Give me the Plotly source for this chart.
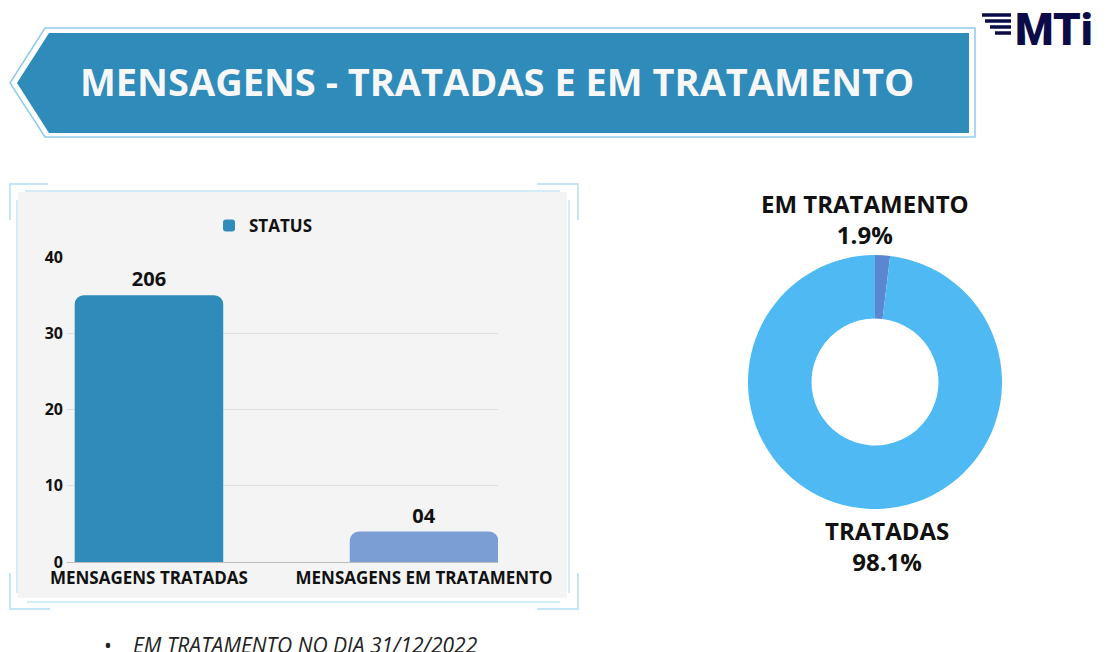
import plotly.graph_objects as go

# page body has an 8px margin; the figure fills the rest of the 1109x652 window
OFF = 8
W, H = 1109 - OFF, 652 - OFF

# ---------------- data ----------------
title_text = "MENSAGENS - TRATADAS E EM TRATAMENTO"
bar_categories = ["MENSAGENS TRATADAS", "MENSAGENS EM TRATAMENTO"]
bar_values = [35, 4]
bar_labels = ["206", "04"]
bar_colors = ["#2e8bba", "#7b9fd4"]
legend_name = "STATUS"
y_ticks = [0, 10, 20, 30, 40]

pie_labels = ["EM TRATAMENTO", "TRATADAS"]
pie_values = [4, 206]
pie_pct_text = ["1.9%", "98.1%"]
pie_colors = ["#5b87d0", "#4fb9f4"]

note_text = "EM TRATAMENTO NO DIA 31/12/2022"
logo_text = "MTi"


def px(x):
    return (x - OFF) / W


def py(y):
    return 1 - (y - OFF) / H


def path(points, close=True):
    s = "M " + " L ".join(f"{px(x):.5f},{py(y):.5f}" for x, y in points)
    return s + (" Z" if close else "")


fig = go.Figure()

# bar chart
fig.add_trace(go.Bar(
    x=bar_categories, y=bar_values, name=legend_name,
    marker=dict(color=bar_colors, line=dict(width=0)),
    text=bar_labels, textposition="outside",
    textfont=dict(family="Open Sans", size=20, color="#111111", weight="bold"),
    cliponaxis=False, width=0.54, showlegend=True,
    xaxis="x", yaxis="y",
))

# donut
fig.add_trace(go.Pie(
    labels=pie_labels, values=pie_values, hole=0.5, sort=False,
    direction="counterclockwise", rotation=0,
    marker=dict(colors=pie_colors, line=dict(width=0)),
    textinfo="none", showlegend=False,
    domain=dict(x=[px(748), px(1002)], y=[py(509), py(255)]),
))

shapes = []
# banner
shapes.append(dict(type="path", xref="paper", yref="paper",
                   path=path([(10, 83), (45, 28), (975, 28), (975, 137), (45, 137)]),
                   fillcolor="white", line=dict(color="#8ecbea", width=1.5), layer="below"))
shapes.append(dict(type="path", xref="paper", yref="paper",
                   path=path([(17, 83), (49, 33), (969, 33), (969, 133), (49, 133)]),
                   fillcolor="#2e8bba", line=dict(width=0), layer="below"))
# gray box
shapes.append(dict(type="rect", xref="paper", yref="paper",
                   x0=px(18), x1=px(567), y0=py(598), y1=py(192),
                   fillcolor="#f4f4f4", line=dict(width=0), layer="below"))
lc = "#d4ecfa"
for pts in [[(25, 191), (560, 191)], [(27, 602), (560, 602)],
            [(17, 200), (17, 593)], [(569, 200), (569, 593)]]:
    shapes.append(dict(type="path", xref="paper", yref="paper", path=path(pts, close=False),
                       line=dict(color=lc, width=2), layer="below"))
bc = "#c6e5f8"
for pts in [[(10, 220), (10, 184), (48, 184)], [(537, 184), (578, 184), (578, 220)],
            [(10, 573), (10, 609), (50, 609)], [(537, 609), (578, 609), (578, 573)]]:
    shapes.append(dict(type="path", xref="paper", yref="paper", path=path(pts, close=False),
                       line=dict(color=bc, width=2), layer="below"))
# logo stripes
for (x0, y) in [(982, 15), (985, 21), (990, 27), (995, 33)]:
    shapes.append(dict(type="path", xref="paper", yref="paper",
                       path=path([(x0, y), (1011, y)], close=False),
                       line=dict(color="#0b0b48", width=3.5)))

annotations = [
    dict(text=title_text, x=px(497), y=py(81), xref="paper", yref="paper",
         showarrow=False, xanchor="center", yanchor="middle",
         font=dict(family="Open Sans", size=38, color="#f7f7f7", weight="bold")),
    dict(text=logo_text, x=px(1013), y=py(30), xref="paper", yref="paper",
         showarrow=False, xanchor="left", yanchor="middle",
         font=dict(family="Roboto", size=44, color="#0b0b48", weight=900)),
    dict(text=f"{pie_labels[0]}<br>{pie_pct_text[0]}", x=px(865), y=py(219),
         xref="paper", yref="paper", showarrow=False, xanchor="center", yanchor="middle",
         font=dict(family="Open Sans", size=24, color="#111111", weight="bold")),
    dict(text=f"{pie_labels[1]}<br>{pie_pct_text[1]}", x=px(887), y=py(546),
         xref="paper", yref="paper", showarrow=False, xanchor="center", yanchor="middle",
         font=dict(family="Open Sans", size=24, color="#111111", weight="bold")),
    dict(text="•", x=px(108), y=py(645), xref="paper", yref="paper",
         showarrow=False, xanchor="center", yanchor="middle",
         font=dict(family="Open Sans", size=21, color="#222222")),
    dict(text=f"<i>{note_text}</i>", x=px(131), y=py(645), xref="paper", yref="paper",
         showarrow=False, xanchor="left", yanchor="middle",
         font=dict(family="Open Sans", size=21, color="#222222")),
]

fig.update_layout(
    width=W, height=H, margin=dict(l=0, r=0, t=0, b=0, autoexpand=False),
    paper_bgcolor="white", plot_bgcolor="rgba(0,0,0,0)",
    barcornerradius=9,
    shapes=shapes, annotations=annotations,
    xaxis=dict(domain=[px(67), px(498)], range=[-0.298, 1.269], automargin=False,
               showgrid=False, zeroline=False, showline=False, ticks="",
               ticklabelstandoff=4,
               tickfont=dict(family="Open Sans", size=17, color="#111111", weight="bold")),
    yaxis=dict(domain=[py(562), py(257)], range=[0, 40], tickvals=y_ticks, automargin=False,
               showgrid=True, gridcolor="#dedede", gridwidth=1,
               zeroline=True, zerolinecolor="#bdbdbd", zerolinewidth=1,
               ticklabelstandoff=3,
               tickfont=dict(family="Open Sans", size=16, color="#111111", weight="bold")),
    legend=dict(x=px(263), y=py(226), xanchor="center", yanchor="middle",
                orientation="h", bgcolor="rgba(0,0,0,0)",
                font=dict(family="Open Sans", size=17, color="#111111", weight="bold")),
)

fig.write_html("out.html")
